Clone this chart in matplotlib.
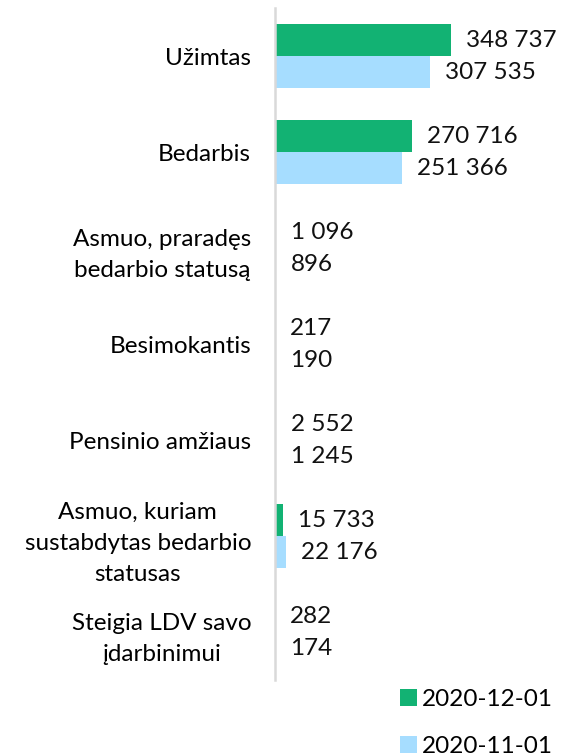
import matplotlib.pyplot as plt
import numpy as np

plt.rcParams['font.family'] = ['Lato', 'DejaVu Sans']
plt.rcParams['font.size'] = 17

categories = ['Užimtas', 'Bedarbis', 'Asmuo, praradęs\nbedarbio statusą', 'Besimokantis',
              'Pensinio amžiaus', 'Asmuo, kuriam\nsustabdytas bedarbio\nstatusas',
              'Steigia LDV savo\nįdarbinimui']
dec_values = [348737, 270716, 1096, 217, 2552, 15733, 282]
nov_values = [307535, 251366, 896, 190, 1245, 22176, 174]
series_labels = ['2020-12-01', '2020-11-01']
colors = ['#12b273', '#a6ddff']

fig = plt.figure(figsize=(5.63, 7.54), dpi=100)
ax = fig.add_axes([0.488, 0.098, 0.507, 0.891])

y = np.arange(len(categories))
h = 0.333
b1 = ax.barh(y - h / 2, dec_values, height=h, color=colors[0], label=series_labels[0])
b2 = ax.barh(y + h / 2, nov_values, height=h, color=colors[1], label=series_labels[1])

fmt = lambda v: f"{v:,}".replace(",", " ")
for bars, vals in [(b1, dec_values), (b2, nov_values)]:
    ax.bar_label(bars, labels=[fmt(v) for v in vals], padding=11, fontsize=17.5,
                 color='#111111')

ax.set_ylim(len(categories) - 0.5, -0.5)
ax.set_xlim(0, 565000)
ax.set_yticks(y)
ax.set_yticklabels(categories, multialignment='center', linespacing=1.6, fontsize=17.5)
ax.tick_params(axis='y', length=0, pad=17)
ax.set_xticks([])
for s in ['top', 'right', 'bottom']:
    ax.spines[s].set_visible(False)
ax.spines['left'].set_color('#d9d9d9')
ax.spines['left'].set_linewidth(1.8)

fig.legend(loc='upper right', bbox_to_anchor=(1.02, 0.115), frameon=False,
           handlelength=0.7, handleheight=0.7, handletextpad=0.2,
           labelspacing=1.05, fontsize=17.5)

fig.savefig('out.png', dpi=100)
